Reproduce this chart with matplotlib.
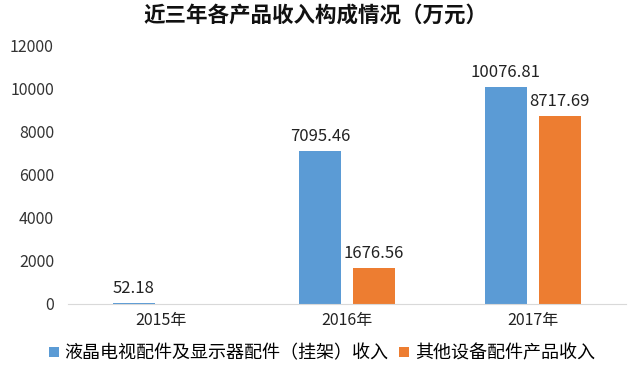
import matplotlib
matplotlib.use("Agg")
import matplotlib.pyplot as plt
import numpy as np

plt.rcParams['font.family'] = ['Noto Sans CJK SC', 'DejaVu Sans']

categories = ['2015年', '2016年', '2017年']
series_names = ['液晶电视配件及显示器配件（挂架）收入', '其他设备配件产品收入']
lcd_values = [52.18, 7095.46, 10076.81]
other_values = [None, 1676.56, 8717.69]
yticks = [0, 2000, 4000, 6000, 8000, 10000, 12000]
title = '近三年各产品收入构成情况（万元）'

colors = ['#5B9BD5', '#ED7D31']

fig = plt.figure(figsize=(6.4, 3.72), dpi=100)
ax = fig.add_axes([0.106, 0.183, 0.872, 0.696])

x = np.arange(len(categories))
w = 0.228
off = 0.145
for i, (vals, c, name) in enumerate(zip([lcd_values, other_values], colors, series_names)):
    xs = [xi + (-off if i == 0 else off) for xi, v in zip(x, vals) if v is not None]
    vs = [v for v in vals if v is not None]
    ax.bar(xs, vs, width=w, color=c, label=name)
    for xx, v in zip(xs, vs):
        ax.text(xx, v + 250, f'{v:.2f}', ha='center', va='bottom', fontsize=12, color='#222222')

ax.set_xlim(-0.5, 2.5)
ax.set_ylim(0, 12000)
ax.set_yticks(yticks)
ax.set_yticklabels([str(t) for t in yticks], fontsize=11.5, color='#333333')
ax.set_xticks(x)
ax.set_xticklabels(categories, fontsize=11.5, color='#222222')
ax.tick_params(axis='both', length=0, pad=6)
ax.tick_params(axis='y', pad=10)
for s in ['top', 'right', 'left']:
    ax.spines[s].set_visible(False)
ax.spines['bottom'].set_color('#D9D9D9')

fig.text(0.493, 0.96, title, ha='center', va='center', fontsize=15.5, fontweight='bold', color='#111111')

leg = fig.legend(loc='center', bbox_to_anchor=(0.503, 0.05), ncol=2, frameon=False,
                 fontsize=13, handlelength=0.55, handleheight=0.55, handletextpad=0.3,
                 columnspacing=0.6)
fig.savefig('out.png', dpi=100)
